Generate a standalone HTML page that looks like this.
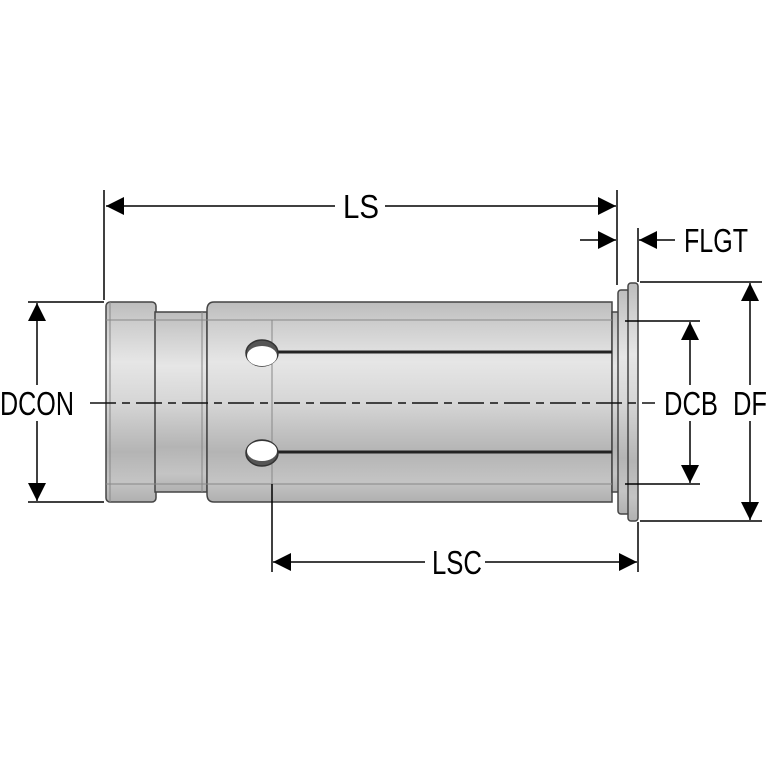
<!DOCTYPE html>
<html><head><style>html,body{margin:0;padding:0;background:#fff}svg{display:block}</style></head>
<body>
<svg width="767" height="767" viewBox="0 0 767 767" xmlns="http://www.w3.org/2000/svg">
<defs>
<linearGradient id="g" x1="0" y1="0" x2="0" y2="1">
<stop offset="0" stop-color="#bdbdbd"/><stop offset="0.12" stop-color="#cfcfcf"/>
<stop offset="0.3" stop-color="#e6e6e6"/><stop offset="0.5" stop-color="#d6d6d6"/>
<stop offset="0.75" stop-color="#b4b4b4"/><stop offset="0.9" stop-color="#c4c4c4"/><stop offset="1" stop-color="#b0b0b0"/>
</linearGradient>
<marker id="a" viewBox="0 0 10 10" refX="10" refY="5" markerWidth="24" markerHeight="18" markerUnits="userSpaceOnUse" orient="auto"><path d="M0,0L10,5L0,10z" fill="#000"/></marker>
</defs>
<g stroke="#444" stroke-width="1.5" fill="url(#g)">
<rect x="106" y="302" width="50" height="200" rx="4"/>
<rect x="155" y="312" width="52" height="180"/>
<path d="M207,310 Q207,302 214,302 L612,302 L612,502 L214,502 Q207,502 207,494Z"/>
<rect x="612" y="312" width="8" height="180"/>
<rect x="618" y="290" width="12" height="224" rx="3"/>
<rect x="628" y="283" width="10" height="238" rx="3"/>
</g>
<g stroke="#888" stroke-width="1" fill="none">
<line x1="106" y1="320" x2="612" y2="320"/><line x1="106" y1="484" x2="612" y2="484"/>
<line x1="272" y1="320" x2="272" y2="484"/><line x1="202" y1="312" x2="202" y2="492"/>
<line x1="110" y1="302" x2="110" y2="502"/>
</g>
<g stroke="#222" stroke-width="3">
<line x1="276" y1="352" x2="612" y2="352"/><line x1="276" y1="452" x2="612" y2="452"/>
</g>
<g stroke="#333" stroke-width="1.5">
<ellipse cx="262" cy="353" rx="16" ry="13" fill="#555"/>
<ellipse cx="262" cy="356" rx="15" ry="10" fill="#fff" stroke="none"/>
<ellipse cx="262" cy="453" rx="16" ry="13" fill="#555"/>
<ellipse cx="262" cy="451" rx="15" ry="10" fill="#fff" stroke="none"/>
</g>
<line x1="90" y1="403" x2="655" y2="403" stroke="#111" stroke-width="1.5" stroke-dasharray="26,6,8,6"/>
<g stroke="#000" stroke-width="1.5" fill="none">
<line x1="104" y1="190" x2="104" y2="300"/><line x1="617" y1="190" x2="617" y2="285"/>
<line x1="28" y1="302" x2="104" y2="302"/><line x1="28" y1="502" x2="104" y2="502"/>
<line x1="272" y1="484" x2="272" y2="572"/><line x1="638" y1="522" x2="638" y2="572"/>
<line x1="638" y1="228" x2="638" y2="282"/>
<line x1="640" y1="282" x2="762" y2="282"/><line x1="640" y1="521" x2="762" y2="521"/>
<line x1="625" y1="321" x2="700" y2="321"/><line x1="625" y1="484" x2="700" y2="484"/>
</g>
<g stroke="#000" stroke-width="1.5" fill="none" marker-end="url(#a)">
<line x1="335" y1="206" x2="106" y2="206"/><line x1="385" y1="206" x2="616" y2="206"/>
<line x1="580" y1="240" x2="616" y2="240"/><line x1="675" y1="240" x2="639" y2="240"/>
<line x1="37" y1="385" x2="37" y2="303"/><line x1="37" y1="421" x2="37" y2="501"/>
<line x1="690" y1="385" x2="690" y2="322"/><line x1="690" y1="421" x2="690" y2="483"/>
<line x1="750" y1="385" x2="750" y2="283"/><line x1="750" y1="421" x2="750" y2="520"/>
<line x1="425" y1="562" x2="273" y2="562"/><line x1="485" y1="562" x2="637" y2="562"/>
</g>
<g font-family="Liberation Sans, sans-serif" font-size="33" fill="#000">
<text x="343" y="218" textLength="36" lengthAdjust="spacingAndGlyphs">LS</text>
<text x="684" y="252" textLength="64" lengthAdjust="spacingAndGlyphs">FLGT</text>
<text x="0" y="415" textLength="74" lengthAdjust="spacingAndGlyphs">DCON</text>
<text x="664" y="415" textLength="54" lengthAdjust="spacingAndGlyphs">DCB</text>
<text x="733" y="415" textLength="34" lengthAdjust="spacingAndGlyphs">DF</text>
<text x="432" y="574" textLength="50" lengthAdjust="spacingAndGlyphs">LSC</text>
</g>
</svg>
</body></html>
